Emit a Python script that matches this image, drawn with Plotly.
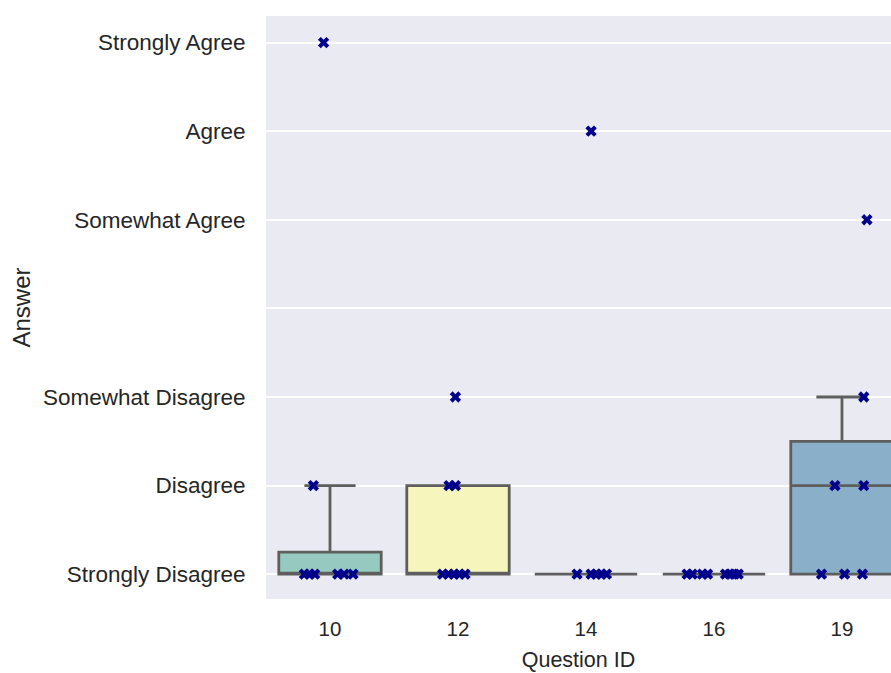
import plotly.graph_objects as go

# ---- data ----
questions = ["10", "12", "14", "16", "19"]
answer_labels = ["Strongly Disagree", "Disagree", "Somewhat Disagree", "",
                 "Somewhat Agree", "Agree", "Strongly Agree"]
answer_values = [1, 2, 3, 4, 5, 6, 7]

# box statistics per question
q1 = [1, 1, 1, 1, 1]
median = [1, 1, 1, 1, 2]
q3 = [1.25, 2, 1, 1, 2.5]
lowerfence = [1, 1, 1, 1, 1]
upperfence = [2, 2, 1, 1, 3]

# individual answers per question (strip points) and their horizontal jitter
answers_q10 = [7, 2, 1, 1, 1, 1, 1, 1]
jitter_q10 = [-0.05, -0.13, -0.20, -0.16, -0.12, 0.06, 0.11, 0.18]
answers_q12 = [3, 2, 2, 1, 1, 1, 1, 1]
jitter_q12 = [-0.02, -0.07, -0.02, -0.12, -0.075, -0.03, 0.01, 0.055]
answers_q14 = [6, 1, 1, 1, 1, 1]
jitter_q14 = [0.04, -0.07, 0.04, 0.08, 0.12, 0.16]
answers_q16 = [1, 1, 1, 1, 1, 1, 1, 1]
jitter_q16 = [-0.21, -0.17, -0.09, -0.05, 0.09, 0.125, 0.16, 0.19]
answers_q19 = [5, 3, 2, 2, 1, 1, 1]
jitter_q19 = [0.195, 0.17, -0.055, 0.17, -0.16, 0.02, 0.16]

answers = [answers_q10, answers_q12, answers_q14, answers_q16, answers_q19]
jitters = [jitter_q10, jitter_q12, jitter_q14, jitter_q16, jitter_q19]

box_fills = ["#96cac1", "#f6f6bc", "#c2c0d6", "#e8877d", "#8aafc8"]
line_color = "#5e5e5e"
point_color = "#00008b"
text_color = "#262626"
font_family = "Liberation Sans, Arial, sans-serif"

fig = go.Figure()

for i, q in enumerate(questions):
    fig.add_trace(go.Box(
        x=[i], q1=[q1[i]], median=[median[i]], q3=[q3[i]],
        lowerfence=[lowerfence[i]], upperfence=[upperfence[i]],
        width=0.8, whiskerwidth=0.5,
        fillcolor=box_fills[i],
        line=dict(color=line_color, width=2.8),
        boxpoints=False, showlegend=False, hoverinfo="skip",
    ))

for i, q in enumerate(questions):
    fig.add_trace(go.Scatter(
        x=[i + j for j in jitters[i]], y=answers[i],
        mode="markers",
        marker=dict(symbol="x", size=10, color=point_color,
                    line=dict(width=0)),
        showlegend=False, hoverinfo="skip",
    ))

fig.update_layout(
    width=891, height=673,
    margin=dict(l=266, r=0, t=16, b=74),
    paper_bgcolor="white",
    plot_bgcolor="#eaeaf2",
    boxmode="overlay",
    font=dict(family=font_family, color=text_color, size=20),
)

fig.update_xaxes(
    range=[-0.5, 4.383],
    tickvals=list(range(len(questions))),
    ticktext=questions,
    tickfont=dict(size=20.5, color=text_color),
    ticks="outside", ticklen=11, tickcolor="rgba(0,0,0,0)",
    showgrid=False, zeroline=False, showline=False,
    title=dict(text="Question ID", font=dict(size=21.5, color=text_color), standoff=13),
)
fig.update_yaxes(
    range=[0.72, 7.3],
    tickvals=answer_values,
    ticktext=answer_labels,
    tickfont=dict(size=22.5, color=text_color),
    ticks="outside", ticklen=15, tickcolor="rgba(0,0,0,0)",
    showgrid=True, gridcolor="white", gridwidth=1.8,
    zeroline=False, showline=False,
    title=dict(text="Answer", font=dict(size=24, color=text_color), standoff=5),
)

fig.write_html("out.html")
